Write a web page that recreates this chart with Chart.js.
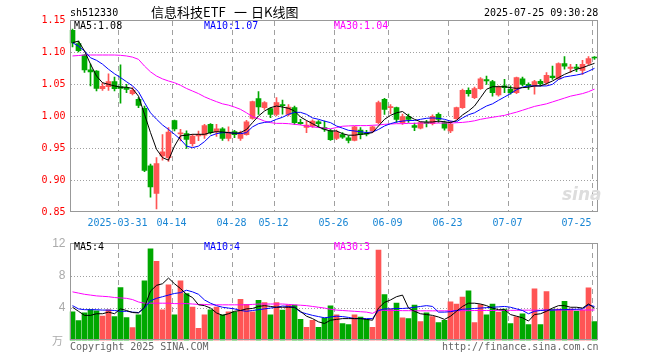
<!DOCTYPE html>
<html><head><meta charset="utf-8">
<script src="https://cdn.jsdelivr.net/npm/chart.js@4.4.1/dist/chart.umd.min.js"></script>
<style>
html,body{margin:0;padding:0;background:#fff;}
#wrap{position:relative;width:660px;height:360px;overflow:hidden;background:#fff;}
canvas{position:absolute;left:0;}
.t{position:absolute;white-space:pre;font-family:"DejaVu Sans Mono",monospace;font-size:10px;line-height:10px;}
.cj{position:absolute;white-space:pre;font-family:"Noto Sans CJK SC",sans-serif;font-size:13px;line-height:13px;color:#000;}
</style></head>
<body><div id="wrap">
<canvas id="c1" width="660" height="232" style="top:0"></canvas>
<canvas id="c2" width="660" height="128" style="top:232px"></canvas>
<div class="t" style="left:70px;top:8px;color:#000">sh512330</div>
<div class="cj" style="left:151px;top:5px">信息科技ETF</div>
<div class="cj" style="left:234px;top:5px">一</div>
<div class="cj" style="left:251px;top:5px">日K线图</div>
<div class="t" style="left:484px;top:8px;color:#000">2025-07-25 09:30:28</div>
<div class="t" style="left:74px;top:21px;color:#000">MA5:1.08</div>
<div class="t" style="left:204px;top:21px;color:#0000ff">MA10:1.07</div>
<div class="t" style="left:334px;top:21px;color:#ff00ff">MA30:1.04</div>
<div class="t" style="left:74px;top:242px;color:#000">MA5:4</div>
<div class="t" style="left:204px;top:242px;color:#0000ff">MA10:4</div>
<div class="t" style="left:334px;top:242px;color:#ff00ff">MA30:3</div>
<div class="t" style="left:52px;top:334px;color:#aaa;font-family:'Noto Sans CJK SC';font-size:11px;line-height:12px">万</div>
<div class="t" style="left:70px;top:342px;color:#666">Copyright 2025 SINA.COM</div>
<div class="t" style="left:442px;top:342px;color:#666">http://finance.sina.com.cn</div>
<div class="t" style="left:562px;top:184px;color:#ddd;font-family:'DejaVu Sans';font-style:italic;font-weight:bold;font-size:17px;line-height:20px">sina</div>
</div>
<script>
const dates = ['2025-03-19','2025-03-20','2025-03-21','2025-03-24','2025-03-25','2025-03-26','2025-03-27','2025-03-28','2025-03-31',
'2025-04-01','2025-04-02','2025-04-03','2025-04-07','2025-04-08','2025-04-09','2025-04-10','2025-04-11','2025-04-14','2025-04-15','2025-04-16','2025-04-17','2025-04-18','2025-04-21','2025-04-22','2025-04-23','2025-04-24','2025-04-25','2025-04-28','2025-04-29','2025-04-30',
'2025-05-06','2025-05-07','2025-05-08','2025-05-09','2025-05-12','2025-05-13','2025-05-14','2025-05-15','2025-05-16','2025-05-19','2025-05-20','2025-05-21','2025-05-22','2025-05-23','2025-05-26','2025-05-27','2025-05-28','2025-05-29','2025-05-30',
'2025-06-03','2025-06-04','2025-06-05','2025-06-06','2025-06-09','2025-06-10','2025-06-11','2025-06-12','2025-06-13','2025-06-16','2025-06-17','2025-06-18','2025-06-19','2025-06-20','2025-06-23','2025-06-24','2025-06-25','2025-06-26','2025-06-27','2025-06-30',
'2025-07-01','2025-07-02','2025-07-03','2025-07-04','2025-07-07','2025-07-08','2025-07-09','2025-07-10','2025-07-11','2025-07-14','2025-07-15','2025-07-16','2025-07-17','2025-07-18','2025-07-21','2025-07-22','2025-07-23','2025-07-24','2025-07-25'];

const tickDates = ['2025-03-31','2025-04-14','2025-04-28','2025-05-12','2025-05-26','2025-06-09','2025-06-23','2025-07-07','2025-07-25'];
const tickTexts = ['2025-03-31','04-14','04-28','05-12','05-26','06-09','06-23','07-07','07-25     '];
const priceTicks = [0.85,0.90,0.95,1.00,1.05,1.10,1.15];
const volumeTicks = [0,4,8,12];

const openP = [1.134,1.113,1.095,1.072,1.070,1.0427,1.0458,1.0536,1.0458,1.0443,1.035,1.026,1.012,0.922,0.879,0.9375,0.935,0.993,0.972,0.9724,0.9568,0.9688,0.970,0.987,0.9755,0.980,0.965,0.9755,0.965,0.971,
0.9964,1.0271,1.013,1.0115,1.0026,1.018,1.0026,1.013,0.990,0.982,0.984,0.991,0.982,0.977,0.965,0.971,0.966,0.962,0.978,0.9725,0.9766,0.9896,1.026,1.013,1.013,0.9895,0.999,0.985,0.981,0.990,
0.988,1.0026,0.9896,0.9766,0.996,1.013,1.040,1.0286,1.0427,1.057,1.0536,1.033,1.047,1.0417,1.0365,1.058,1.0495,1.047,1.054,1.052,1.0625,1.058,1.082,1.0745,1.0766,1.0714,1.0823,1.0917];
const highP = [1.136,1.117,1.096,1.081,1.071,1.052,1.066,1.061,1.080,1.0495,1.0443,1.0286,1.0156,0.925,0.935,0.971,0.982,0.9935,0.979,0.977,0.9714,0.9766,0.987,0.988,0.987,0.982,0.983,0.9776,0.9765,0.9932,
1.0234,1.038,1.0224,1.013,1.0286,1.025,1.018,1.0156,0.9948,0.992,0.994,0.993,0.992,0.979,0.978,0.974,0.969,0.984,0.982,0.9776,0.9844,1.0234,1.0276,1.0177,1.014,1.003,1.003,0.989,0.991,0.9932,
1.002,1.005,0.992,0.992,1.014,1.042,1.044,1.045,1.060,1.0625,1.0557,1.047,1.0573,1.047,1.061,1.061,1.052,1.0557,1.057,1.068,1.078,1.083,1.0927,1.0807,1.0807,1.087,1.0927,1.0927];
const lowP = [1.108,1.100,1.068,1.047,1.039,1.040,1.040,1.039,1.020,1.0365,1.0328,1.013,0.913,0.873,0.855,0.931,0.929,0.9766,0.961,0.9495,0.953,0.9615,0.965,0.972,0.968,0.962,0.961,0.966,0.962,0.970,
0.995,1.0026,1.0104,0.9974,1.000,1.003,1.000,0.987,0.987,0.974,0.982,0.982,0.976,0.962,0.963,0.965,0.958,0.961,0.964,0.969,0.974,0.988,1.0026,1.0036,0.990,0.987,0.990,0.977,0.9797,0.983,
0.986,0.990,0.978,0.974,0.9948,1.012,1.031,1.027,1.0417,1.0495,1.031,1.031,1.0365,1.034,1.035,1.047,1.0417,1.034,1.047,1.0495,1.0573,1.057,1.073,1.068,1.0693,1.065,1.080,1.0885];
const closeP = [1.114,1.102,1.072,1.069,1.043,1.0464,1.0536,1.0427,1.0432,1.0417,1.040,1.0167,0.915,0.889,0.9255,0.944,0.975,0.980,0.9735,0.9635,0.9688,0.9714,0.985,0.974,0.980,0.965,0.975,0.971,0.9734,0.991,
1.0224,1.0141,1.0208,1.0026,1.0208,1.016,1.014,0.9895,0.988,0.986,0.992,0.988,0.9795,0.963,0.975,0.967,0.962,0.983,0.971,0.9715,0.983,1.0208,1.0104,1.014,0.9948,0.999,0.9948,0.982,0.9896,0.9885,
0.9995,0.9948,0.981,0.987,1.013,1.040,1.035,1.0427,1.058,1.0547,1.0365,1.0453,1.0443,1.0365,1.060,1.0495,1.0474,1.0536,1.0505,1.0635,1.060,1.082,1.078,1.0766,1.0745,1.0807,1.0896,1.0906];

const ma5P = [1.1146,1.117,1.1016,1.081,1.0625,1.052,1.0495,1.047,1.045,1.045,1.043,1.031,1.0026,0.974,0.948,0.935,0.931,0.953,0.969,0.970,0.9714,0.9714,0.9714,0.974,0.9755,0.975,0.974,0.973,0.974,0.979,
0.9896,1.0,1.0078,1.013,1.0156,1.014,1.012,1.0078,0.9984,0.993,0.988,0.983,0.979,0.9766,0.9766,0.9724,0.970,0.970,0.9714,0.9724,0.974,0.9844,0.9948,1.001,1.005,1.007,1.0,0.9948,0.991,0.9906,
0.9906,0.992,0.991,0.9896,0.993,1.0016,1.0078,1.0156,1.0286,1.0417,1.0458,1.0458,1.0458,1.0443,1.0432,1.0443,1.045,1.047,1.047,1.0505,1.0547,1.06,1.065,1.069,1.073,1.0755,1.079,1.0823];
const ma10P = [1.1146,1.109,1.1016,1.091,1.087,1.081,1.073,1.066,1.060,1.0536,1.047,1.038,1.021,1.005,0.995,0.986,0.979,0.9714,0.9635,0.953,0.9505,0.953,0.960,0.969,0.9724,0.974,0.974,0.973,0.9724,0.974,
0.983,0.988,0.990,0.991,0.9948,0.998,1.0026,1.0057,1.0057,1.0026,0.997,0.9948,0.992,0.9896,0.9844,0.981,0.9776,0.9766,0.9755,0.974,0.975,0.979,0.9844,0.988,0.9906,0.992,0.993,0.993,0.9948,0.9964,
0.997,0.9964,0.9948,0.992,0.991,0.997,1.002,1.005,1.0104,1.0156,1.019,1.0245,1.0297,1.035,1.041,1.045,1.047,1.047,1.047,1.047,1.0495,1.057,1.061,1.0625,1.064,1.066,1.070,1.0745];
const ma30P = [1.0938,1.0945,1.0953,1.0953,1.0953,1.0953,1.0953,1.0953,1.0948,1.0938,1.092,1.0885,1.078,1.069,1.0625,1.058,1.0547,1.052,1.048,1.043,1.039,1.035,1.030,1.026,1.0224,1.019,1.017,1.014,1.0104,1.005,
0.999,0.9958,0.992,0.9896,0.9885,0.9885,0.988,0.987,0.986,0.9844,0.983,0.982,0.981,0.980,0.982,0.984,0.9845,0.985,0.985,0.985,0.9855,0.986,0.987,0.9875,0.988,0.988,0.9885,0.9885,0.989,0.989,
0.989,0.989,0.989,0.989,0.9895,0.990,0.991,0.9925,0.9948,0.9965,0.998,0.9995,1.001,1.0036,1.006,1.009,1.012,1.015,1.017,1.019,1.022,1.025,1.028,1.031,1.033,1.035,1.038,1.042];

const volume = [3.54,2.47,3.4,3.82,3.66,3.02,3.78,2.95,6.52,2.82,1.6,3.16,7.36,11.3,9.75,3.78,6.86,3.16,7.36,5.79,4.12,1.49,3.16,3.78,4.13,3.16,3.54,3.54,5.07,4.47,
3.54,4.95,4.68,3.16,4.68,3.76,4.36,4.36,2.6,1.61,2.49,1.61,2.76,4.28,3.16,2.09,1.97,3.16,2.88,2.6,1.61,11.16,5.67,3.88,4.6,2.8,2.69,4.36,2.33,3.4,
2.96,2.2,2.49,4.76,4.48,5.35,6.14,2.2,4.44,3.16,4.48,3.52,3.88,2.09,2.92,3.28,1.97,6.38,1.97,6.02,3.88,3.88,4.84,3.88,3.64,3.76,6.5,2.33];
const ma5V = [4.1,3.6,3.1,3.1,3.3,3.3,3.5,3.3,3.9,3.7,3.45,3.4,4.1,6.1,6.8,7.0,7.7,7.0,6.4,5.7,5.3,4.4,4.3,4.0,3.4,3.1,3.3,3.6,3.7,3.9,
3.95,4.2,4.3,4.2,4.1,4.1,4.1,4.1,3.6,3.0,2.7,2.3,2.1,2.5,2.6,2.7,2.7,2.7,2.7,2.6,2.5,4.0,4.7,5.0,5.4,5.6,4.0,3.6,3.3,3.2,
3.1,2.9,2.6,3.0,3.6,4.2,4.6,4.6,4.5,4.3,4.0,3.8,3.8,3.2,3.0,2.8,2.4,3.2,3.3,3.6,4.0,4.3,4.3,4.1,4.1,4.0,4.5,4.0];
const ma10V = [4.3,3.9,3.8,3.8,3.8,3.75,3.75,3.7,3.6,3.6,3.5,3.45,4.0,4.9,5.2,5.4,5.6,5.8,5.9,6.2,6.0,5.7,5.0,4.6,4.3,4.1,4.0,3.9,3.7,3.6,
3.7,3.8,3.9,4.0,4.1,4.25,4.2,4.1,3.5,3.3,3.1,2.95,2.8,2.9,3.0,2.95,2.85,2.7,2.7,2.7,2.7,3.7,3.9,3.9,3.95,3.95,4.0,4.1,4.2,4.3,
4.2,3.5,3.5,3.55,3.7,3.85,3.9,3.95,4.0,4.05,4.1,4.15,4.2,4.1,3.9,3.7,3.3,3.6,3.7,3.75,3.75,3.8,3.8,3.85,3.85,3.9,4.4,4.2];
const ma30V = [6.0,5.85,5.7,5.6,5.5,5.45,5.4,5.3,5.25,5.2,5.05,4.75,4.6,4.6,4.6,4.6,4.6,4.55,4.55,4.55,4.5,4.45,4.45,4.4,4.4,4.4,4.4,4.4,4.4,4.4,
4.45,4.5,4.5,4.5,4.5,4.5,4.45,4.4,4.35,4.3,4.2,4.1,4.0,3.85,3.75,3.7,3.65,3.6,3.55,3.5,3.35,3.75,3.72,3.7,3.7,3.68,3.68,3.66,3.66,3.66,
3.66,3.66,3.66,3.66,3.68,3.68,3.68,3.7,3.7,3.7,3.7,3.72,3.72,3.72,3.72,3.74,3.74,3.74,3.74,3.76,3.76,3.76,3.76,3.76,3.76,3.76,3.76,3.76];

const RED = '#ff5555', GREEN = '#00a800';
const upColors = dates.map((d, i) => closeP[i] >= openP[i] ? RED : GREEN);
const tickIdx = tickDates.map(d => dates.indexOf(d));
const tickLabelAt = {};
tickDates.forEach((d, j) => { tickLabelAt[dates.indexOf(d)] = tickTexts[j]; });

const MONO = '"DejaVu Sans Mono", monospace';
const GRID = '#a0a0a0';

// grid lines (behind the marks, dashes drawn as small rects) + frame, positioned through the chart's own scales
const gridPlugin = {
  id: 'gridFrame',
  afterDraw(chart) {
    const a = chart.chartArea, c = chart.ctx, xs = chart.scales.x, ys = chart.scales.y;
    const half = (xs.getPixelForValue(1) - xs.getPixelForValue(0)) / 2;
    const top = Math.round(a.top), bottom = Math.floor(a.bottom), left = Math.round(a.left), right = Math.floor(a.right);
    c.save();
    c.globalCompositeOperation = 'destination-over';
    c.fillStyle = GRID;
    for (const i of tickIdx) {
      const x = Math.round(xs.getPixelForValue(i) - half);
      for (let y = top + 1; y < bottom; y += 9) c.fillRect(x, y, 1, Math.min(5, bottom - y));
    }
    for (const t of ys.ticks) {
      if (t.value <= ys.min + 1e-9 || t.value >= ys.max - 1e-9) continue;
      const y = Math.round(ys.getPixelForValue(t.value));
      for (let x = left + 1; x < right; x += 3) c.fillRect(x, y, 1, 1);
    }
    c.restore();
    c.save();
    c.fillStyle = '#999999';
    c.fillRect(left, top, right - left + 1, 1);
    c.fillRect(left, bottom - 1, right - left + 1, 1);
    c.fillRect(left, top, 1, bottom - top);
    c.fillRect(right, top, 1, bottom - top);
    c.restore();
  }
};

function xScale(showLabels) {
  return {
    type: 'category', offset: true,
    grid: { display: false, drawTicks: false },
    border: { display: false },
    ticks: { display: showLabels, autoSkip: false, maxRotation: 0, minRotation: 0, labelOffset: -3, padding: 5,
      color: '#1a86d4', font: { family: MONO, size: 10 },
      callback: (v, i) => tickLabelAt[i] || '' },
    afterFit: s => { s.height = showLabels ? 20 : 0; }
  };
}

const lineDs = (data, color) => ({ type: 'line', data, borderColor: color, borderWidth: 1, pointRadius: 0, fill: false, tension: 0 });

new Chart(document.getElementById('c1'), {
  type: 'bar',
  data: {
    labels: dates,
    datasets: [
      lineDs(ma5P, '#000000'),
      lineDs(ma10P, '#0000ff'),
      lineDs(ma30P, '#ff00ff'),
      { label: 'body', data: dates.map((d, i) => [openP[i], closeP[i]]), backgroundColor: upColors, borderWidth: 0, barThickness: 5, minBarLength: 1, grouped: false },
      { label: 'wick', data: dates.map((d, i) => [lowP[i], highP[i]]), backgroundColor: upColors, borderWidth: 0, barThickness: 1, grouped: false }
    ]
  },
  options: {
    responsive: false, animation: false, devicePixelRatio: 1,
    layout: { padding: { left: 0, right: 62.5, top: 20, bottom: 0 } },
    plugins: { legend: { display: false }, tooltip: { enabled: false } },
    scales: {
      x: xScale(true),
      y: { min: priceTicks[0], max: priceTicks[priceTicks.length - 1],
        afterBuildTicks: s => { s.ticks = priceTicks.map(v => ({ value: v })); },
        ticks: { color: '#ff0000', padding: 4, font: { family: MONO, size: 10 }, callback: v => Number(v).toFixed(2) },
        grid: { display: false, drawTicks: false },
        border: { display: false },
        afterFit: s => { s.width = 69.5; } }
    }
  },
  plugins: [gridPlugin]
});

new Chart(document.getElementById('c2'), {
  type: 'bar',
  data: {
    labels: dates,
    datasets: [
      lineDs(ma5V, '#000000'),
      lineDs(ma10V, '#0000ff'),
      lineDs(ma30V, '#ff00ff'),
      { label: 'vol', data: volume, backgroundColor: upColors, borderWidth: 0, barThickness: 5, grouped: false }
    ]
  },
  options: {
    responsive: false, animation: false, devicePixelRatio: 1,
    layout: { padding: { left: 0, right: 62.5, top: 8, bottom: 19.5 } },
    plugins: { legend: { display: false }, tooltip: { enabled: false } },
    scales: {
      x: xScale(false),
      y: { min: volumeTicks[0], max: volumeTicks[volumeTicks.length - 1],
        afterBuildTicks: s => { s.ticks = volumeTicks.map(v => ({ value: v })); },
        ticks: { color: '#aaaaaa', padding: 4, font: { family: '"Liberation Sans", sans-serif', size: 12 }, callback: v => v === 0 ? '' : String(v) },
        grid: { display: false, drawTicks: false },
        border: { display: false },
        afterFit: s => { s.width = 69.5; } }
    }
  },
  plugins: [gridPlugin]
});
</script>
</body></html>
